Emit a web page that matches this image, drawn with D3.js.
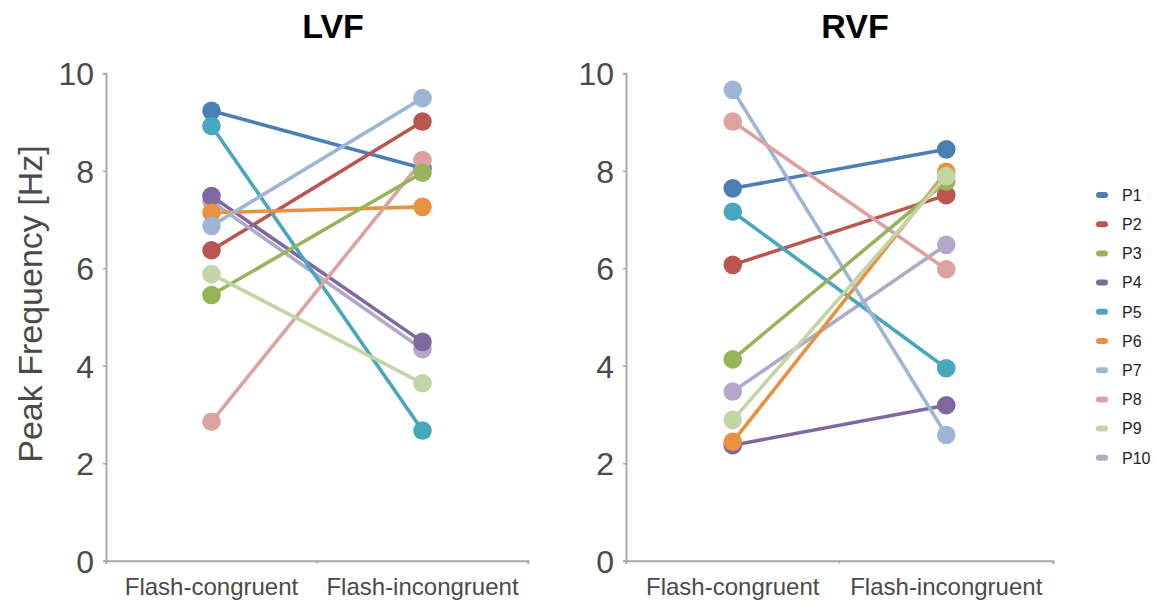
<!DOCTYPE html>
<html>
<head>
<meta charset="utf-8">
<script src="https://cdn.jsdelivr.net/npm/d3@7"></script>
<style>
  html, body { margin: 0; padding: 0; background: #fff; }
  svg { display: block; font-family: "Liberation Sans", Arial, Helvetica, sans-serif; }
</style>
</head>
<body>
<svg id="chart" width="1156" height="607"></svg>
<script>
const conditions = ["Flash-congruent", "Flash-incongruent"];
const participants = ["P1", "P2", "P3", "P4", "P5", "P6", "P7", "P8", "P9", "P10"];
const colors = ["#4a7eb5", "#bb5550", "#98b45a", "#7f68a0", "#46a7bf", "#e8923f", "#9fb5d6", "#dba2a0", "#c2d5a4", "#b3a8c8"];
const yTicks = [0, 2, 4, 6, 8, 10];

// [congruent, incongruent] per participant
const lvfValues = [
  [9.23, 8.05], [6.37, 9.01], [5.45, 7.96], [7.48, 4.49], [8.92, 2.67],
  [7.14, 7.26], [6.87, 9.49], [2.85, 8.22], [5.88, 3.64], [7.37, 4.34]
];
const rvfValues = [
  [7.64, 8.44], [6.07, 7.50], [4.13, 7.78], [2.37, 3.19], [7.16, 3.95],
  [2.44, 7.98], [9.66, 2.58], [9.01, 5.98], [2.89, 7.89], [3.47, 6.48]
];
// order in which the participants are stacked (last is on top)
const drawOrder = ["P1", "P2", "P10", "P4", "P5", "P6", "P7", "P8", "P3", "P9"];

const svg = d3.select("#chart");
const axisColor = "#a9a9a9";
const textColor = "#4a4a4a";

const plotTop = 73.3, plotBottom = 560.7;
const y = d3.scaleLinear().domain([0, 10]).range([plotBottom, plotTop]);

function drawPanel(left, right, title, values, titleX) {
  const x = d3.scaleBand().domain(conditions).range([left, right]);
  const g = svg.append("g");

  // axes
  const yAxis = g.append("g")
    .attr("transform", `translate(${left},0)`)
    .call(d3.axisLeft(y).tickValues(yTicks).tickSize(3).tickPadding(9));
  const xAxis = g.append("g")
    .attr("transform", `translate(0,${plotBottom})`)
    .call(d3.axisBottom(x).tickSize(3).tickFormat(""));

  [yAxis, xAxis].forEach(a => {
    a.select(".domain").attr("stroke", axisColor).attr("stroke-width", 2);
    a.selectAll(".tick line").attr("stroke", axisColor).attr("stroke-width", 1.5);
  });
  yAxis.selectAll(".tick text")
    .attr("fill", textColor)
    .attr("font-size", 32)
    .attr("dy", "0.36em");

  // boundary ticks between bands
  xAxis.selectAll(".tick").remove();
  xAxis.selectAll(".sep")
    .data([left, (left + right) / 2, right])
    .join("line")
    .attr("x1", d => d).attr("x2", d => d)
    .attr("y1", 0).attr("y2", 3)
    .attr("stroke", axisColor).attr("stroke-width", 1.5);
  xAxis.selectAll(".lbl")
    .data(conditions)
    .join("text")
    .attr("x", d => x(d) + x.bandwidth() / 2)
    .attr("y", 34)
    .attr("text-anchor", "middle")
    .attr("fill", textColor)
    .attr("font-size", 24)
    .text(d => d);

  g.append("text")
    .attr("x", titleX)
    .attr("y", 38)
    .attr("text-anchor", "middle")
    .attr("font-size", 34)
    .attr("font-weight", "bold")
    .attr("fill", "#000")
    .text(title);

  const cx = c => x(c) + x.bandwidth() / 2;
  const rows = drawOrder.map(p => {
    const i = participants.indexOf(p);
    return { p, color: colors[i], v: values[i] };
  });

  const series = g.selectAll(".series")
    .data(rows)
    .join("g");

  series.append("line")
    .attr("x1", cx(conditions[0]))
    .attr("x2", cx(conditions[1]))
    .attr("y1", d => y(d.v[0]))
    .attr("y2", d => y(d.v[1]))
    .attr("stroke", d => d.color)
    .attr("stroke-width", 3.6);

  series.selectAll("circle")
    .data(d => d.v.map((v, k) => ({ v, k, color: d.color })))
    .join("circle")
    .attr("cx", d => cx(conditions[d.k]))
    .attr("cy", d => y(d.v))
    .attr("r", 9.3)
    .attr("fill", d => d.color);
}

drawPanel(106, 528, "LVF", lvfValues, 333);
drawPanel(626, 1053, "RVF", rvfValues, 855);

svg.append("text")
  .attr("transform", "rotate(-90)")
  .attr("x", -304)
  .attr("y", 42)
  .attr("text-anchor", "middle")
  .attr("fill", textColor)
  .attr("font-size", 34)
  .text("Peak Frequency [Hz]");

// legend
const legend = svg.append("g");
const item = legend.selectAll("g")
  .data(participants)
  .join("g")
  .attr("transform", (d, i) => `translate(1102,${195 + i * 29.2})`);
item.append("line")
  .attr("x1", -3).attr("x2", 3)
  .attr("stroke", (d, i) => colors[i])
  .attr("stroke-width", 6)
  .attr("stroke-linecap", "round");
item.append("text")
  .attr("x", 20)
  .attr("dy", "0.36em")
  .attr("font-size", 16)
  .attr("fill", "#222")
  .text(d => d);
</script>
</body>
</html>
